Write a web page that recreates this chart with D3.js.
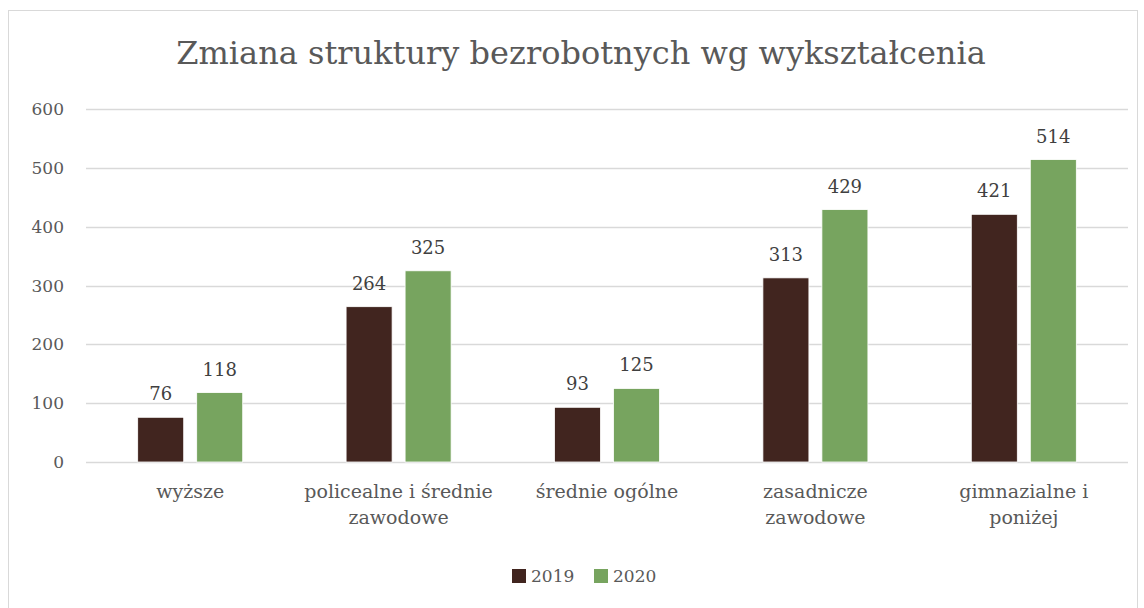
<!DOCTYPE html>
<html>
<head>
<meta charset="utf-8">
<script src="https://cdn.jsdelivr.net/npm/d3@7"></script>
<style>
  body { margin: 0; background: #fff; }
</style>
</head>
<body>
<svg id="chart" width="1144" height="608" font-family="DejaVu Serif, serif"></svg>
<script>
const categories = [
  ["wyższe"],
  ["policealne i średnie", "zawodowe"],
  ["średnie ogólne"],
  ["zasadnicze", "zawodowe"],
  ["gimnazialne i", "poniżej"],
];
const years = ["2019", "2020"];
const values2019 = [76, 264, 93, 313, 421];
const values2020 = [118, 325, 125, 429, 514];
const yTicks = [0, 100, 200, 300, 400, 500, 600];

const colors = { "2019": "#41251f", "2020": "#77a45f" };

const svg = d3.select('#chart');

// outer frame
svg.append('rect')
  .attr('x', 8.5).attr('y', 10.5)
  .attr('width', 1129).attr('height', 610)
  .attr('fill', 'none').attr('stroke', '#d9d9d9');

svg.append('text')
  .attr('x', 581).attr('y', 64)
  .attr('text-anchor', 'middle')
  .attr('font-size', 32)
  .attr('fill', '#595959')
  .text('Zmiana struktury bezrobotnych wg wykształcenia');

const plot = { left: 86, right: 1128, top: 109, bottom: 462 };

const x = d3.scaleBand()
  .domain(d3.range(categories.length))
  .range([plot.left, plot.right]);

const x1 = d3.scaleBand()
  .domain(years)
  .range([0, x.bandwidth()])
  .paddingInner(0.22)
  .paddingOuter(0.876);

const y = d3.scaleLinear().domain([0, 600]).range([plot.bottom, plot.top]);

// gridlines
svg.append('g').selectAll('line').data(yTicks).enter().append('line')
  .attr('x1', plot.left).attr('x2', plot.right)
  .attr('y1', d => Math.round(y(d)) + 0.5).attr('y2', d => Math.round(y(d)) + 0.5)
  .attr('stroke', '#d9d9d9').attr('stroke-width', 1.5);

// y labels
svg.append('g').selectAll('text').data(yTicks).enter().append('text')
  .attr('x', 64).attr('y', d => y(d) + 6)
  .attr('text-anchor', 'end')
  .attr('font-size', 17)
  .attr('fill', '#595959')
  .text(d => d);

const rows = categories.map((c, i) => ({ i, vals: [values2019[i], values2020[i]] }));

const groups = svg.append('g').selectAll('g').data(rows).enter().append('g')
  .attr('transform', d => `translate(${x(d.i)},0)`);

groups.selectAll('rect').data(d => d.vals.map((v, k) => ({ year: years[k], v }))).enter().append('rect')
  .attr('x', d => x1(d.year))
  .attr('width', x1.bandwidth())
  .attr('y', d => y(d.v))
  .attr('height', d => y(0) - y(d.v))
  .attr('fill', d => colors[d.year])
  .attr('stroke', '#fff').attr('stroke-width', 0.8);

groups.selectAll('text.val').data(d => d.vals.map((v, k) => ({ year: years[k], v }))).enter().append('text')
  .attr('class', 'val')
  .attr('x', d => x1(d.year) + x1.bandwidth() / 2)
  .attr('y', d => y(d.v) - 17)
  .attr('text-anchor', 'middle')
  .attr('font-size', 18)
  .attr('fill', '#404040')
  .text(d => d.v);

// category labels
svg.append('g').selectAll('text').data(categories).enter().append('text')
  .attr('text-anchor', 'middle')
  .attr('font-size', 19)
  .attr('fill', '#595959')
  .attr('transform', (d, i) => `translate(${x(i) + x.bandwidth() / 2},498)`)
  .selectAll('tspan').data(d => d).enter().append('tspan')
  .attr('x', 0)
  .attr('dy', (d, k) => k === 0 ? 0 : 26)
  .text(d => d);

// legend
const legend = svg.append('g').attr('transform', 'translate(512,569)');
const items = legend.selectAll('g').data(years).enter().append('g')
  .attr('transform', (d, i) => `translate(${i * 82},0)`);
items.append('rect').attr('width', 14).attr('height', 14).attr('fill', d => colors[d]);
items.append('text').attr('x', 19).attr('y', 13)
  .attr('font-size', 17).attr('fill', '#595959').text(d => d);
</script>
</body>
</html>
